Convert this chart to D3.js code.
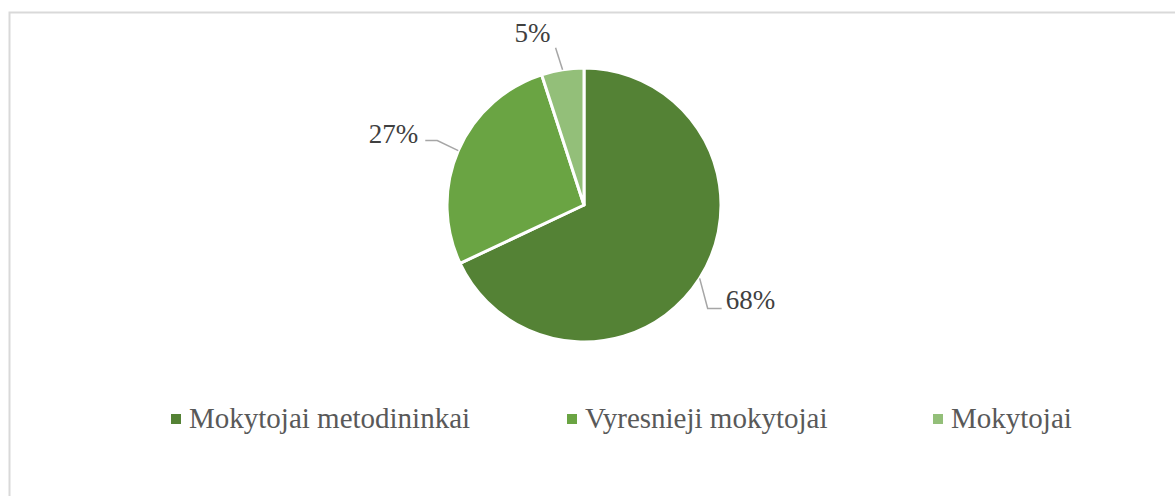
<!DOCTYPE html>
<html>
<head>
<meta charset="utf-8">
<script src="https://cdn.jsdelivr.net/npm/d3@7"></script>
<style>
  body { margin: 0; background: #fff; }
  svg { display: block; }
  text { font-family: "Times New Roman", Times, Tinos, serif; }
</style>
</head>
<body>
<div id="chart"></div>
<script>
// chart data
const categories = ["Mokytojai metodininkai", "Vyresnieji mokytojai", "Mokytojai"];
const shares = [68, 27, 5];
const labels = ["68%", "27%", "5%"];
const colors = ["#548235", "#6aa443", "#93bf79"];

const width = 1175, height = 496;
const cx = 584, cy = 205, radius = 137;

const svg = d3.select("#chart").append("svg")
    .attr("width", width)
    .attr("height", height);

/* chart area border, runs off the right and bottom edge */
svg.append("rect")
    .attr("x", 9.5).attr("y", 12.5)
    .attr("width", width + 20).attr("height", height + 20)
    .attr("fill", "none")
    .attr("stroke", "#d9d9d9")
    .attr("stroke-width", 2);

const pie = d3.pie().sort(null).value(d => d);
const arcs = pie(shares);
const arc = d3.arc().innerRadius(0).outerRadius(radius);

const g = svg.append("g").attr("transform", "translate(" + cx + "," + cy + ")");

g.selectAll("path.slice")
    .data(arcs)
    .enter()
    .append("path")
    .attr("class", "slice")
    .attr("d", arc)
    .attr("fill", (d, i) => colors[i])
    .attr("stroke", "#fff")
    .attr("stroke-width", 3)
    .attr("stroke-linejoin", "round");

/*
leader lines: start on the rim at the slice middle, bend out (dx, dy),
then run flat for `flat` px; label sits at (tx, ty) from the line end
*/
const leader = [
    { dx: 8, dy: 30, flat: 14, tx: 4, ty: 1, anchor: "start" },
    { dx: -21, dy: -10, flat: -12, tx: -7, ty: 2, anchor: "end" },
    { dx: -7, dy: -22, flat: 0, tx: -23, ty: -6, anchor: "middle" }
];

arcs.forEach((d, i) => {
    const L = leader[i];
    const a = (d.startAngle + d.endAngle) / 2;
    const p0 = [radius * Math.sin(a), -radius * Math.cos(a)];
    const p1 = [p0[0] + L.dx, p0[1] + L.dy];
    const p2 = [p1[0] + L.flat, p1[1]];

    g.append("polyline")
        .attr("points", [p0, p1, p2].map(p => p.join(",")).join(" "))
        .attr("fill", "none")
        .attr("stroke", "#a6a6a6")
        .attr("stroke-width", 1.5);

    g.append("text")
        .attr("x", p2[0] + L.tx).attr("y", p2[1] + L.ty)
        .attr("text-anchor", L.anchor)
        .style("font-size", "27px")
        .style("fill", "#404040")
        .text(labels[i]);
});

/* legend */
const legendX = [171, 567, 933];
const legend = svg.selectAll("g.legend")
    .data(categories)
    .enter()
    .append("g")
    .attr("class", "legend")
    .attr("transform", (d, i) => "translate(" + legendX[i] + ",0)");

legend.append("rect")
    .attr("x", 0).attr("y", 414)
    .attr("width", 10).attr("height", 10)
    .attr("fill", (d, i) => colors[i]);

legend.append("text")
    .attr("x", 18).attr("y", 428)
    .style("font-size", "29px")
    .style("fill", "#595959")
    .text(d => d);
</script>
</body>
</html>
